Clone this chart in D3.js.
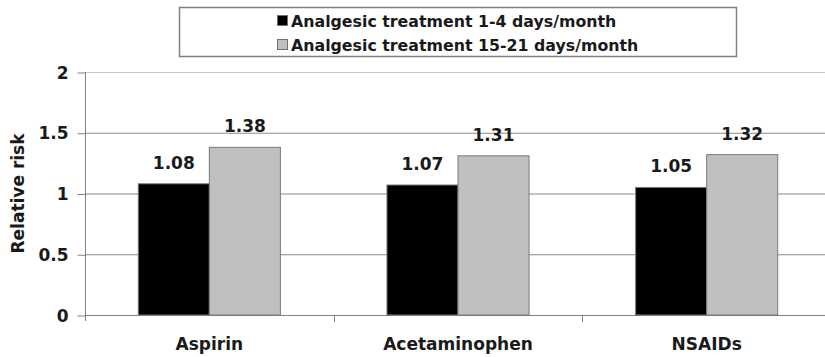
<!DOCTYPE html>
<html>
<head>
<meta charset="utf-8">
<script src="https://cdn.jsdelivr.net/npm/d3@7"></script>
<style>
  html, body { margin: 0; padding: 0; background: #fff; }
  svg { display: block; font-family: "DejaVu Sans", sans-serif; font-weight: bold; }
</style>
</head>
<body>
<svg id="chart" width="825" height="357"></svg>
<script>
const categories = ["Aspirin", "Acetaminophen", "NSAIDs"];
const seriesNames = ["Analgesic treatment 1-4 days/month", "Analgesic treatment 15-21 days/month"];
const lowUse = [1.08, 1.07, 1.05];
const highUse = [1.38, 1.31, 1.32];
const yTicks = [0, 0.5, 1, 1.5, 2];
const colors = ["#000000", "#c0c0c0"];

const svg = d3.select("#chart");
const plotLeft = 85, plotRight = 831, plotTop = 72, plotBottom = 315;
const textColor = "#1a1a1a";

const x0 = d3.scaleBand().domain(categories).range([plotLeft, plotRight]).padding(0);
const x1 = d3.scaleBand().domain([0, 1]).range([0, x0.bandwidth()]).paddingInner(0).paddingOuter(0.75);
const y = d3.scaleLinear().domain([0, 2]).range([plotBottom, plotTop]);

// gridlines
svg.append("g").selectAll("line")
  .data(yTicks.filter(d => d > 0))
  .enter().append("line")
  .attr("x1", plotLeft).attr("x2", 825)
  .attr("y1", d => y(d) + 0.5).attr("y2", d => y(d) + 0.5)
  .attr("stroke", d => d === 2 ? "#c8c8c8" : "#8a8a8a")
  .attr("stroke-width", 1);

// y axis
const yAxis = svg.append("g")
  .attr("transform", `translate(${plotLeft + 0.5},0)`)
  .call(d3.axisLeft(y).tickValues(yTicks).tickSize(8).tickSizeOuter(0).tickFormat(d3.format("")));
yAxis.select(".domain").attr("stroke", "#808080").attr("d", `M0,${plotTop}V${plotBottom + 6}`);
yAxis.selectAll(".tick line").attr("stroke", "#808080").attr("transform", "translate(0,0.5)");
yAxis.selectAll(".tick text")
  .attr("font-size", 17).attr("font-family", "DejaVu Sans, sans-serif")
  .attr("font-weight", "bold").attr("fill", textColor).attr("x", -17).attr("dy", "0.36em");

// x axis baseline and category ticks
svg.append("line")
  .attr("x1", plotLeft).attr("x2", 825)
  .attr("y1", plotBottom + 0.5).attr("y2", plotBottom + 0.5)
  .attr("stroke", "#808080");
svg.append("g").selectAll("line")
  .data(categories.slice(1))
  .enter().append("line")
  .attr("x1", d => Math.round(x0(d)) + 0.5).attr("x2", d => Math.round(x0(d)) + 0.5)
  .attr("y1", plotBottom).attr("y2", plotBottom + 7)
  .attr("stroke", "#808080");

// bars
const rows = categories.map((c, i) => ({ cat: c, vals: [lowUse[i], highUse[i]] }));
const groups = svg.append("g").selectAll("g")
  .data(rows)
  .enter().append("g")
  .attr("transform", d => `translate(${x0(d.cat)},0)`);

groups.selectAll("rect")
  .data(d => d.vals.map((v, k) => ({ v, k })))
  .enter().append("rect")
  .attr("x", d => x1(d.k))
  .attr("y", d => y(d.v))
  .attr("width", x1.bandwidth())
  .attr("height", d => y(0) - y(d.v))
  .attr("fill", d => colors[d.k])
  .attr("stroke", "#7a7a7a")
  .attr("stroke-width", 1);

groups.selectAll("text.val")
  .data(d => d.vals.map((v, k) => ({ v, k })))
  .enter().append("text")
  .attr("class", "val")
  .attr("x", d => x1(d.k) + x1.bandwidth() / 2)
  .attr("y", d => y(d.v) - 15)
  .attr("text-anchor", "middle")
  .attr("font-size", 17)
  .attr("fill", textColor)
  .text(d => d3.format(".2f")(d.v));

// category labels
svg.append("g").selectAll("text")
  .data(categories)
  .enter().append("text")
  .attr("x", d => x0(d) + x0.bandwidth() / 2)
  .attr("y", 350)
  .attr("text-anchor", "middle")
  .attr("font-size", 17)
  .attr("fill", textColor)
  .text(d => d);

// y title
svg.append("text")
  .attr("transform", `translate(24,${(plotTop + plotBottom) / 2}) rotate(-90)`)
  .attr("text-anchor", "middle")
  .attr("font-size", 17)
  .attr("fill", textColor)
  .text("Relative risk");

// legend
const legend = svg.append("g");
legend.append("rect")
  .attr("x", 179.5).attr("y", 7.5).attr("width", 557).attr("height", 49)
  .attr("fill", "#fff").attr("stroke", "#808080").attr("stroke-width", 1.5);
const items = legend.selectAll("g")
  .data(seriesNames)
  .enter().append("g")
  .attr("transform", (d, i) => `translate(277,${21 + i * 24})`);
items.append("rect")
  .attr("x", 0.5).attr("y", -5.5).attr("width", 10).attr("height", 10)
  .attr("fill", (d, i) => colors[i]).attr("stroke", "#707070");
items.append("text")
  .attr("x", 14).attr("y", 0).attr("dy", "0.36em")
  .attr("font-size", 15.8)
  .attr("fill", textColor)
  .text(d => d);
</script>
</body>
</html>
